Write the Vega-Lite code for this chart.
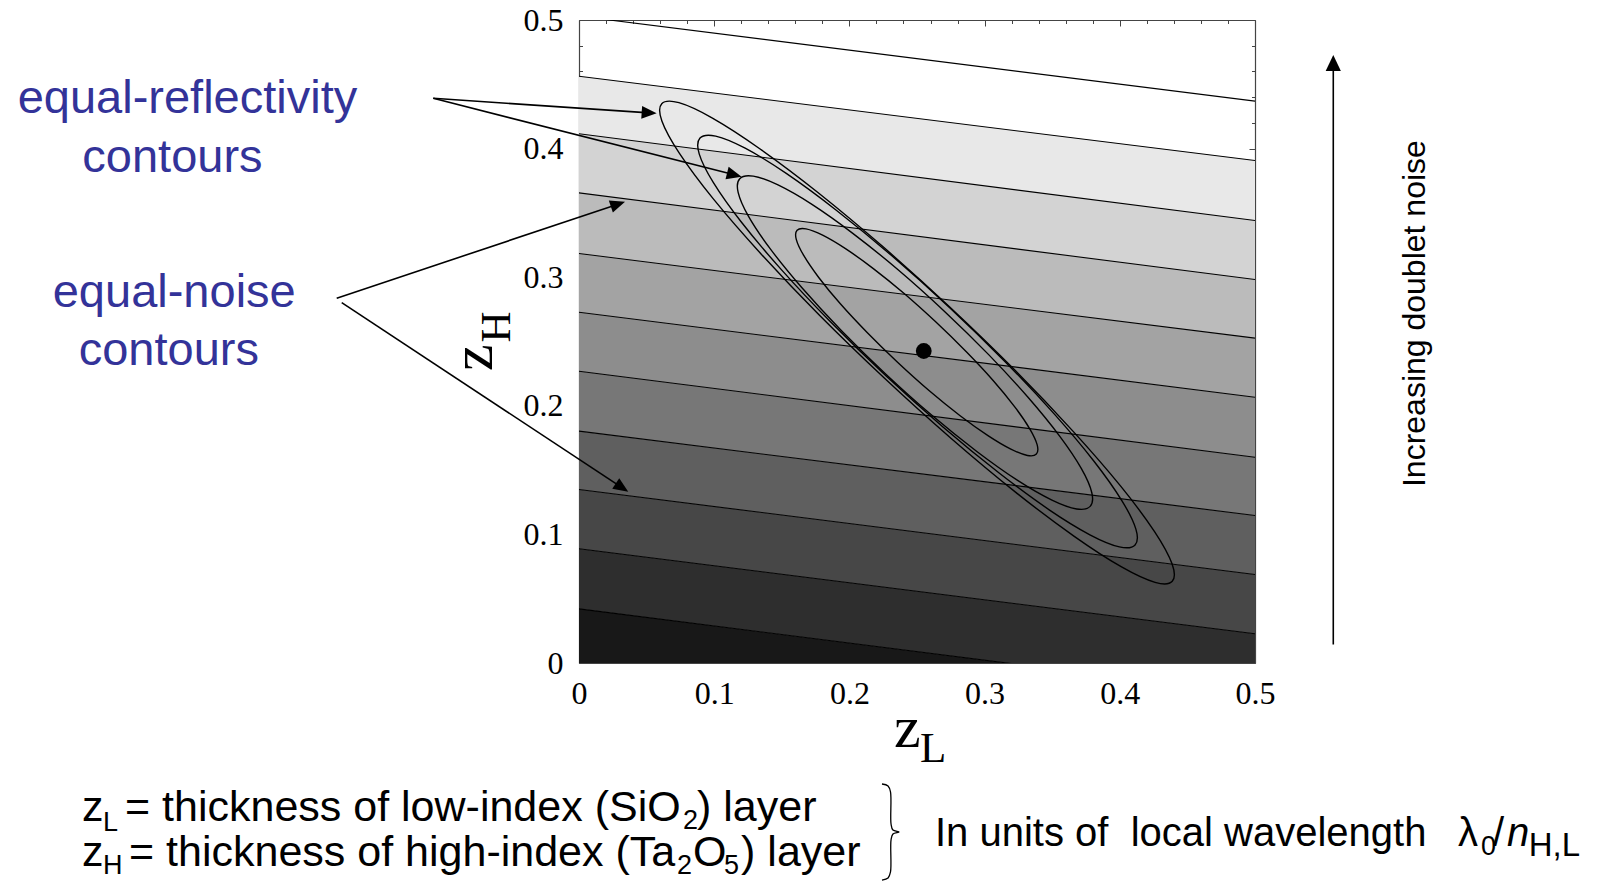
{
  "$schema": "https://vega.github.io/schema/vega-lite/v6.json",
  "width": 676,
  "height": 643,
  "autosize": "none",
  "padding": {"left": 579, "top": 20, "right": 357, "bottom": 218},
  "background": "white",
  "config": {"view": {"stroke": null}},
  "datasets": {
    "bands": [
      {"band": "b2", "zL": 0, "lo": 0.4115, "hi": 0.4563}, {"band": "b2", "zL": 0.5, "lo": 0.3441, "hi": 0.3907},
      {"band": "b3", "zL": 0, "lo": 0.3656, "hi": 0.4115}, {"band": "b3", "zL": 0.5, "lo": 0.2982, "hi": 0.3441},
      {"band": "b4", "zL": 0, "lo": 0.3184, "hi": 0.3656}, {"band": "b4", "zL": 0.5, "lo": 0.2526, "hi": 0.2982},
      {"band": "b5", "zL": 0, "lo": 0.2728, "hi": 0.3184}, {"band": "b5", "zL": 0.5, "lo": 0.2067, "hi": 0.2526},
      {"band": "b6", "zL": 0, "lo": 0.2269, "hi": 0.2728}, {"band": "b6", "zL": 0.5, "lo": 0.1600, "hi": 0.2067},
      {"band": "b7", "zL": 0, "lo": 0.1803, "hi": 0.2269}, {"band": "b7", "zL": 0.5, "lo": 0.1147, "hi": 0.1600},
      {"band": "b8", "zL": 0, "lo": 0.1349, "hi": 0.1803}, {"band": "b8", "zL": 0.5, "lo": 0.0688, "hi": 0.1147},
      {"band": "b9", "zL": 0, "lo": 0.0888, "hi": 0.1349}, {"band": "b9", "zL": 0.5, "lo": 0.0227, "hi": 0.0688},
      {"band": "b10", "zL": 0, "lo": 0.0421, "hi": 0.0888}, {"band": "b10", "zL": 0.5, "lo": -0.0244, "hi": 0.0227},
      {"band": "b11", "zL": 0, "lo": 0, "hi": 0.0421}, {"band": "b11", "zL": 0.5, "lo": 0, "hi": -0.0244}
    ],
    "noise": [
      {"line": "L1", "zL": 0, "zH": 0.503}, {"line": "L1", "zL": 0.5, "zH": 0.4369},
      {"line": "L2", "zL": 0, "zH": 0.4563}, {"line": "L2", "zL": 0.5, "zH": 0.3907},
      {"line": "L3", "zL": 0, "zH": 0.4115}, {"line": "L3", "zL": 0.5, "zH": 0.3441},
      {"line": "L4", "zL": 0, "zH": 0.3656}, {"line": "L4", "zL": 0.5, "zH": 0.2982},
      {"line": "L5", "zL": 0, "zH": 0.3184}, {"line": "L5", "zL": 0.5, "zH": 0.2526},
      {"line": "L6", "zL": 0, "zH": 0.2728}, {"line": "L6", "zL": 0.5, "zH": 0.2067},
      {"line": "L7", "zL": 0, "zH": 0.2269}, {"line": "L7", "zL": 0.5, "zH": 0.1600},
      {"line": "L8", "zL": 0, "zH": 0.1803}, {"line": "L8", "zL": 0.5, "zH": 0.1147},
      {"line": "L9", "zL": 0, "zH": 0.1349}, {"line": "L9", "zL": 0.5, "zH": 0.0688},
      {"line": "L10", "zL": 0, "zH": 0.0888}, {"line": "L10", "zL": 0.5, "zH": 0.0227},
      {"line": "L11", "zL": 0, "zH": 0.0421}, {"line": "L11", "zL": 0.5, "zH": -0.0244}
    ],
    "refl": [
      {"c": 1, "i": 0, "zL": 0.4388, "zH": 0.0635}, {"c": 1, "i": 1, "zL": 0.4387, "zH": 0.0769},
      {"c": 1, "i": 2, "zL": 0.4257, "zH": 0.1021}, {"c": 1, "i": 3, "zL": 0.4008, "zH": 0.1373},
      {"c": 1, "i": 4, "zL": 0.3655, "zH": 0.1801}, {"c": 1, "i": 5, "zL": 0.3225, "zH": 0.2276},
      {"c": 1, "i": 6, "zL": 0.2744, "zH": 0.2766}, {"c": 1, "i": 7, "zL": 0.2247, "zH": 0.3238},
      {"c": 1, "i": 8, "zL": 0.1767, "zH": 0.3659}, {"c": 1, "i": 9, "zL": 0.1337, "zH": 0.3999},
      {"c": 1, "i": 10, "zL": 0.0987, "zH": 0.4237}, {"c": 1, "i": 11, "zL": 0.0739, "zH": 0.4357},
      {"c": 1, "i": 12, "zL": 0.0612, "zH": 0.4349}, {"c": 1, "i": 13, "zL": 0.0613, "zH": 0.4215},
      {"c": 1, "i": 14, "zL": 0.0743, "zH": 0.3963}, {"c": 1, "i": 15, "zL": 0.0992, "zH": 0.3611},
      {"c": 1, "i": 16, "zL": 0.1345, "zH": 0.3183}, {"c": 1, "i": 17, "zL": 0.1775, "zH": 0.2708},
      {"c": 1, "i": 18, "zL": 0.2256, "zH": 0.2218}, {"c": 1, "i": 19, "zL": 0.2753, "zH": 0.1746},
      {"c": 1, "i": 20, "zL": 0.3233, "zH": 0.1325}, {"c": 1, "i": 21, "zL": 0.3663, "zH": 0.0985},
      {"c": 1, "i": 22, "zL": 0.4013, "zH": 0.0747}, {"c": 1, "i": 23, "zL": 0.4261, "zH": 0.0627},
      {"c": 2, "i": 0, "zL": 0.4113, "zH": 0.0918}, {"c": 2, "i": 1, "zL": 0.4119, "zH": 0.1041},
      {"c": 2, "i": 2, "zL": 0.4015, "zH": 0.1263}, {"c": 2, "i": 3, "zL": 0.3809, "zH": 0.1569},
      {"c": 2, "i": 4, "zL": 0.3513, "zH": 0.1939}, {"c": 2, "i": 5, "zL": 0.3148, "zH": 0.2347},
      {"c": 2, "i": 6, "zL": 0.2740, "zH": 0.2765}, {"c": 2, "i": 7, "zL": 0.2316, "zH": 0.3165},
      {"c": 2, "i": 8, "zL": 0.1903, "zH": 0.3521}, {"c": 2, "i": 9, "zL": 0.1533, "zH": 0.3807},
      {"c": 2, "i": 10, "zL": 0.1229, "zH": 0.4003}, {"c": 2, "i": 11, "zL": 0.1011, "zH": 0.4097},
      {"c": 2, "i": 12, "zL": 0.0895, "zH": 0.4082}, {"c": 2, "i": 13, "zL": 0.0889, "zH": 0.3959},
      {"c": 2, "i": 14, "zL": 0.0993, "zH": 0.3737}, {"c": 2, "i": 15, "zL": 0.1199, "zH": 0.3431},
      {"c": 2, "i": 16, "zL": 0.1495, "zH": 0.3061}, {"c": 2, "i": 17, "zL": 0.1860, "zH": 0.2653},
      {"c": 2, "i": 18, "zL": 0.2268, "zH": 0.2235}, {"c": 2, "i": 19, "zL": 0.2692, "zH": 0.1835},
      {"c": 2, "i": 20, "zL": 0.3105, "zH": 0.1479}, {"c": 2, "i": 21, "zL": 0.3475, "zH": 0.1193},
      {"c": 2, "i": 22, "zL": 0.3779, "zH": 0.0997}, {"c": 2, "i": 23, "zL": 0.3997, "zH": 0.0903},
      {"c": 3, "i": 0, "zL": 0.3781, "zH": 0.1218}, {"c": 3, "i": 1, "zL": 0.3793, "zH": 0.1324},
      {"c": 3, "i": 2, "zL": 0.3716, "zH": 0.1511}, {"c": 3, "i": 3, "zL": 0.3555, "zH": 0.1764},
      {"c": 3, "i": 4, "zL": 0.3321, "zH": 0.2066}, {"c": 3, "i": 5, "zL": 0.3030, "zH": 0.2398},
      {"c": 3, "i": 6, "zL": 0.2702, "zH": 0.2736}, {"c": 3, "i": 7, "zL": 0.2360, "zH": 0.3058},
      {"c": 3, "i": 8, "zL": 0.2025, "zH": 0.3341}, {"c": 3, "i": 9, "zL": 0.1723, "zH": 0.3566},
      {"c": 3, "i": 10, "zL": 0.1472, "zH": 0.3717}, {"c": 3, "i": 11, "zL": 0.1289, "zH": 0.3786},
      {"c": 3, "i": 12, "zL": 0.1189, "zH": 0.3766}, {"c": 3, "i": 13, "zL": 0.1177, "zH": 0.3660},
      {"c": 3, "i": 14, "zL": 0.1254, "zH": 0.3473}, {"c": 3, "i": 15, "zL": 0.1415, "zH": 0.3220},
      {"c": 3, "i": 16, "zL": 0.1649, "zH": 0.2918}, {"c": 3, "i": 17, "zL": 0.1940, "zH": 0.2586},
      {"c": 3, "i": 18, "zL": 0.2268, "zH": 0.2248}, {"c": 3, "i": 19, "zL": 0.2610, "zH": 0.1926},
      {"c": 3, "i": 20, "zL": 0.2945, "zH": 0.1643}, {"c": 3, "i": 21, "zL": 0.3247, "zH": 0.1418},
      {"c": 3, "i": 22, "zL": 0.3498, "zH": 0.1267}, {"c": 3, "i": 23, "zL": 0.3681, "zH": 0.1198},
      {"c": 4, "i": 0, "zL": 0.3383, "zH": 0.1625}, {"c": 4, "i": 1, "zL": 0.3389, "zH": 0.1696},
      {"c": 4, "i": 2, "zL": 0.3334, "zH": 0.1821}, {"c": 4, "i": 3, "zL": 0.3223, "zH": 0.1992},
      {"c": 4, "i": 4, "zL": 0.3063, "zH": 0.2197}, {"c": 4, "i": 5, "zL": 0.2863, "zH": 0.2422},
      {"c": 4, "i": 6, "zL": 0.2638, "zH": 0.2653}, {"c": 4, "i": 7, "zL": 0.2405, "zH": 0.2873},
      {"c": 4, "i": 8, "zL": 0.2177, "zH": 0.3067}, {"c": 4, "i": 9, "zL": 0.1971, "zH": 0.3222},
      {"c": 4, "i": 10, "zL": 0.1802, "zH": 0.3327}, {"c": 4, "i": 11, "zL": 0.1679, "zH": 0.3376},
      {"c": 4, "i": 12, "zL": 0.1613, "zH": 0.3365}, {"c": 4, "i": 13, "zL": 0.1607, "zH": 0.3294},
      {"c": 4, "i": 14, "zL": 0.1662, "zH": 0.3169}, {"c": 4, "i": 15, "zL": 0.1773, "zH": 0.2998},
      {"c": 4, "i": 16, "zL": 0.1933, "zH": 0.2793}, {"c": 4, "i": 17, "zL": 0.2133, "zH": 0.2568},
      {"c": 4, "i": 18, "zL": 0.2358, "zH": 0.2337}, {"c": 4, "i": 19, "zL": 0.2591, "zH": 0.2117},
      {"c": 4, "i": 20, "zL": 0.2819, "zH": 0.1923}, {"c": 4, "i": 21, "zL": 0.3025, "zH": 0.1768},
      {"c": 4, "i": 22, "zL": 0.3194, "zH": 0.1663}, {"c": 4, "i": 23, "zL": 0.3317, "zH": 0.1614}
    ],
    "dot": [{"zL": 0.2550, "zH": 0.2426}],
    "arrows": [
      {"name": "A", "zL": -0.1078, "zH": 0.4391, "zL2": 0.0519, "zH2": 0.4278},
      {"name": "B", "zL": -0.1078, "zH": 0.4391, "zL2": 0.1149, "zH2": 0.3796},
      {"name": "C", "zL": -0.1792, "zH": 0.2836, "zL2": 0.0288, "zH2": 0.3568},
      {"name": "D", "zL": -0.1755, "zH": 0.2802, "zL2": 0.0318, "zH2": 0.1364},
      {"name": "E", "zL": 0.5579, "zH": 0.0143, "zL2": 0.5579, "zH2": 0.4666}
    ],
    "heads": [
      {"name": "A", "zL": 0.0519, "zH": 0.4278},
      {"name": "B", "zL": 0.1149, "zH": 0.3796},
      {"name": "C", "zL": 0.0288, "zH": 0.3568},
      {"name": "D", "zL": 0.0318, "zH": 0.1364},
      {"name": "E", "zL": 0.5579, "zH": 0.4666}
    ],
    "brace": [
      {"i": 0, "zL": 0.2241, "zH": -0.0941}, {"i": 1, "zL": 0.2286, "zH": -0.0956},
      {"i": 2, "zL": 0.2304, "zH": -0.1003}, {"i": 3, "zL": 0.2308, "zH": -0.1252},
      {"i": 4, "zL": 0.2322, "zH": -0.1299}, {"i": 5, "zL": 0.2367, "zH": -0.1314},
      {"i": 6, "zL": 0.2322, "zH": -0.1330}, {"i": 7, "zL": 0.2308, "zH": -0.1376},
      {"i": 8, "zL": 0.2304, "zH": -0.1625}, {"i": 9, "zL": 0.2286, "zH": -0.1672},
      {"i": 10, "zL": 0.2241, "zH": -0.1688}
    ],
    "labels": [
      {"role": "blue", "t": "equal-reflectivity", "zL": -0.2896, "zH": 0.4274},
      {"role": "blue", "t": "contours", "zL": -0.3007, "zH": 0.3820},
      {"role": "blue", "t": "equal-noise", "zL": -0.2994, "zH": 0.2771},
      {"role": "blue", "t": "contours", "zL": -0.3034, "zH": 0.2317},
      {"role": "main", "t": "z", "zL": -0.3676, "zH": -0.1229},
      {"role": "main", "t": "= thickness of low-index (SiO", "zL": -0.3358, "zH": -0.1229},
      {"role": "main", "t": ") layer", "zL": 0.0873, "zH": -0.1229},
      {"role": "main", "t": "z", "zL": -0.3676, "zH": -0.1579},
      {"role": "main", "t": "= thickness of high-index (Ta", "zL": -0.3328, "zH": -0.1579},
      {"role": "main", "t": "O", "zL": 0.0844, "zH": -0.1579},
      {"role": "main", "t": ") layer", "zL": 0.1199, "zH": -0.1579},
      {"role": "right", "t": "In units of\u00a0 local wavelength", "zL": 0.2633, "zH": -0.1423},
      {"role": "right", "t": "λ", "zL": 0.6501, "zH": -0.1423},
      {"role": "right", "t": "/", "zL": 0.6760, "zH": -0.1423},
      {"role": "ital", "t": "n", "zL": 0.6864, "zH": -0.1423},
      {"role": "sub", "t": "L", "zL": -0.3521, "zH": -0.1306},
      {"role": "sub", "t": "2", "zL": 0.0769, "zH": -0.1291},
      {"role": "sub", "t": "H", "zL": -0.3521, "zH": -0.1641},
      {"role": "sub", "t": "2", "zL": 0.0725, "zH": -0.1641},
      {"role": "sub", "t": "5", "zL": 0.1073, "zH": -0.1641},
      {"role": "sub", "t": "0", "zL": 0.6671, "zH": -0.1493},
      {"role": "subR", "t": "H,L", "zL": 0.7024, "zH": -0.1500},
      {"role": "xz", "t": "z", "zL": 0.2330, "zH": -0.0653},
      {"role": "xL", "t": "L", "zL": 0.2522, "zH": -0.0770},
      {"role": "yz", "t": "z", "zL": -0.0646, "zH": 0.2271},
      {"role": "yH", "t": "H", "zL": -0.0510, "zH": 0.2492},
      {"role": "rot", "t": "Increasing doublet noise", "zL": 0.6180, "zH": 0.2717}
    ]
  },
  "encoding": {
    "x": {"field": "zL", "type": "quantitative", "scale": {"domain": [0, 0.5], "nice": false, "zero": false}, "axis": null},
    "y": {"field": "zH", "type": "quantitative", "scale": {"domain": [0, 0.5], "nice": false, "zero": false}, "axis": null}
  },
  "layer": [
    {
      "data": {"name": "bands"},
      "mark": {"type": "area", "clip": true},
      "encoding": {
        "x": {"field": "zL", "type": "quantitative", "scale": {"domain": [0, 0.5], "nice": false, "zero": false},
          "axis": {"orient": "bottom", "values": [0,0.02,0.04,0.06,0.08,0.1,0.12,0.14,0.16,0.18,0.2,0.22,0.24,0.26,0.28,0.3,0.32,0.34,0.36,0.38,0.4,0.42,0.44,0.46,0.48,0.5],
            "labelExpr": "abs(datum.value*10-round(datum.value*10))<0.001 ? format(datum.value,'.1~f') : ''",
            "tickSize": {"condition": {"test": "abs(datum.value*10-round(datum.value*10))<0.001", "value": -6}, "value": -3.5},
            "labelFont": "Liberation Serif", "labelFontSize": 32, "labelColor": "black", "labelPadding": 21,
            "tickColor": "#444444", "tickWidth": 1, "domainColor": "#444444", "domainWidth": 1.2,
            "grid": false, "title": null, "labelFlush": false, "labelOverlap": false, "labelBound": false}},
        "y": {"field": "lo", "type": "quantitative", "stack": null, "scale": {"domain": [0, 0.5], "nice": false, "zero": false},
          "axis": {"orient": "left", "values": [0,0.02,0.04,0.06,0.08,0.1,0.12,0.14,0.16,0.18,0.2,0.22,0.24,0.26,0.28,0.3,0.32,0.34,0.36,0.38,0.4,0.42,0.44,0.46,0.48,0.5],
            "labelExpr": "abs(datum.value*10-round(datum.value*10))<0.001 ? format(datum.value,'.1~f') : ''",
            "tickSize": {"condition": {"test": "abs(datum.value*10-round(datum.value*10))<0.001", "value": -6}, "value": -3.5},
            "labelFont": "Liberation Serif", "labelFontSize": 32, "labelColor": "black", "labelPadding": 22,
            "tickColor": "#444444", "tickWidth": 1, "domainColor": "#444444", "domainWidth": 1.2,
            "grid": false, "title": null, "labelFlush": false, "labelOverlap": false, "labelBound": false}},
        "y2": {"field": "hi"},
        "color": {"field": "band", "type": "nominal",
          "scale": {"domain": ["b2","b3","b4","b5","b6","b7","b8","b9","b10","b11"],
                    "range": ["#E8E8E8","#D3D3D3","#BBBBBB","#A3A3A3","#8D8D8D","#777777","#5F5F5F","#474747","#2E2E2E","#181818"]},
          "legend": null}
      }
    },
    {
      "data": {"name": "noise"},
      "mark": {"type": "line", "clip": true, "color": "black", "strokeWidth": 1.1},
      "encoding": {
        "x": {"field": "zL", "type": "quantitative", "scale": {"domain": [0, 0.5], "nice": false, "zero": false},
          "axis": {"orient": "top", "values": [0,0.02,0.04,0.06,0.08,0.1,0.12,0.14,0.16,0.18,0.2,0.22,0.24,0.26,0.28,0.3,0.32,0.34,0.36,0.38,0.4,0.42,0.44,0.46,0.48,0.5],
            "labels": false,
            "tickSize": {"condition": {"test": "abs(datum.value*10-round(datum.value*10))<0.001", "value": -6}, "value": -3.5},
            "tickColor": "#444444", "tickWidth": 1, "domainColor": "#444444", "domainWidth": 1.2, "grid": false, "title": null}},
        "y": {"field": "zH", "type": "quantitative", "scale": {"domain": [0, 0.5], "nice": false, "zero": false},
          "axis": {"orient": "right", "values": [0,0.02,0.04,0.06,0.08,0.1,0.12,0.14,0.16,0.18,0.2,0.22,0.24,0.26,0.28,0.3,0.32,0.34,0.36,0.38,0.4,0.42,0.44,0.46,0.48,0.5],
            "labels": false,
            "tickSize": {"condition": {"test": "abs(datum.value*10-round(datum.value*10))<0.001", "value": -6}, "value": -3.5},
            "tickColor": "#444444", "tickWidth": 1, "domainColor": "#444444", "domainWidth": 1.2, "grid": false, "title": null}},
        "detail": {"field": "line"}
      }
    },
    {
      "data": {"name": "refl"},
      "mark": {"type": "line", "clip": true, "color": "black", "strokeWidth": 1.4, "interpolate": "cardinal-closed"},
      "encoding": {
        "detail": {"field": "c"},
        "order": {"field": "i", "type": "quantitative"}
      }
    },
    {
      "data": {"name": "dot"},
      "mark": {"type": "point", "shape": "circle", "filled": true, "color": "black", "opacity": 1, "size": 250}
    },
    {
      "data": {"name": "arrows"},
      "mark": {"type": "rule", "color": "black", "strokeWidth": 1.6},
      "encoding": {
        "x2": {"field": "zL2"},
        "y2": {"field": "zH2"}
      }
    },
    {
      "data": {"name": "heads"},
      "transform": [{"filter": "datum.name == 'A'"}],
      "mark": {"type": "point", "shape": "M1,0L-1,-0.85L-1,0.85Z", "size": 225, "filled": true, "color": "black", "opacity": 1, "strokeWidth": 0, "angle": 3.8}
    },
    {
      "data": {"name": "heads"},
      "transform": [{"filter": "datum.name == 'B'"}],
      "mark": {"type": "point", "shape": "M1,0L-1,-0.85L-1,0.85Z", "size": 225, "filled": true, "color": "black", "opacity": 1, "strokeWidth": 0, "angle": 14.3}
    },
    {
      "data": {"name": "heads"},
      "transform": [{"filter": "datum.name == 'C'"}],
      "mark": {"type": "point", "shape": "M1,0L-1,-0.85L-1,0.85Z", "size": 225, "filled": true, "color": "black", "opacity": 1, "strokeWidth": 0, "angle": -18.5}
    },
    {
      "data": {"name": "heads"},
      "transform": [{"filter": "datum.name == 'D'"}],
      "mark": {"type": "point", "shape": "M1,0L-1,-0.85L-1,0.85Z", "size": 225, "filled": true, "color": "black", "opacity": 1, "strokeWidth": 0, "angle": 33.4}
    },
    {
      "data": {"name": "heads"},
      "transform": [{"filter": "datum.name == 'E'"}],
      "mark": {"type": "point", "shape": "M1,0L-1,-0.95L-1,0.95Z", "size": 256, "filled": true, "color": "black", "opacity": 1, "strokeWidth": 0, "angle": 270}
    },
    {
      "data": {"name": "brace"},
      "mark": {"type": "line", "color": "black", "strokeWidth": 1.3, "interpolate": "catmull-rom"},
      "encoding": {"order": {"field": "i", "type": "quantitative"}}
    },
    {
      "data": {"name": "labels"},
      "transform": [{"filter": "datum.role == 'blue'"}],
      "mark": {"type": "text", "font": "Liberation Sans", "fontSize": 47, "color": "#333399", "align": "center", "baseline": "alphabetic"},
      "encoding": {"text": {"field": "t"}}
    },
    {
      "data": {"name": "labels"},
      "transform": [{"filter": "datum.role == 'main'"}],
      "mark": {"type": "text", "font": "Liberation Sans", "fontSize": 43, "color": "black", "align": "left", "baseline": "alphabetic"},
      "encoding": {"text": {"field": "t"}}
    },
    {
      "data": {"name": "labels"},
      "transform": [{"filter": "datum.role == 'right'"}],
      "mark": {"type": "text", "font": "Liberation Sans", "fontSize": 40, "color": "black", "align": "left", "baseline": "alphabetic"},
      "encoding": {"text": {"field": "t"}}
    },
    {
      "data": {"name": "labels"},
      "transform": [{"filter": "datum.role == 'ital'"}],
      "mark": {"type": "text", "font": "Liberation Sans", "fontSize": 40, "fontStyle": "italic", "color": "black", "align": "left", "baseline": "alphabetic"},
      "encoding": {"text": {"field": "t"}}
    },
    {
      "data": {"name": "labels"},
      "transform": [{"filter": "datum.role == 'sub'"}],
      "mark": {"type": "text", "font": "Liberation Sans", "fontSize": 27, "color": "black", "align": "left", "baseline": "alphabetic"},
      "encoding": {"text": {"field": "t"}}
    },
    {
      "data": {"name": "labels"},
      "transform": [{"filter": "datum.role == 'subR'"}],
      "mark": {"type": "text", "font": "Liberation Sans", "fontSize": 33, "color": "black", "align": "left", "baseline": "alphabetic"},
      "encoding": {"text": {"field": "t"}}
    },
    {
      "data": {"name": "labels"},
      "transform": [{"filter": "datum.role == 'xz'"}],
      "mark": {"type": "text", "font": "Liberation Serif", "fontSize": 60, "color": "black", "align": "left", "baseline": "alphabetic"},
      "encoding": {"text": {"field": "t"}}
    },
    {
      "data": {"name": "labels"},
      "transform": [{"filter": "datum.role == 'xL'"}],
      "mark": {"type": "text", "font": "Liberation Serif", "fontSize": 43, "color": "black", "align": "left", "baseline": "alphabetic"},
      "encoding": {"text": {"field": "t"}}
    },
    {
      "data": {"name": "labels"},
      "transform": [{"filter": "datum.role == 'yz'"}],
      "mark": {"type": "text", "font": "Liberation Serif", "fontSize": 60, "color": "black", "align": "left", "baseline": "alphabetic", "angle": 270},
      "encoding": {"text": {"field": "t"}}
    },
    {
      "data": {"name": "labels"},
      "transform": [{"filter": "datum.role == 'yH'"}],
      "mark": {"type": "text", "font": "Liberation Serif", "fontSize": 43, "color": "black", "align": "left", "baseline": "alphabetic", "angle": 270},
      "encoding": {"text": {"field": "t"}}
    },
    {
      "data": {"name": "labels"},
      "transform": [{"filter": "datum.role == 'rot'"}],
      "mark": {"type": "text", "font": "Liberation Sans", "fontSize": 32, "color": "black", "align": "center", "baseline": "middle", "angle": 270},
      "encoding": {"text": {"field": "t"}}
    }
  ],
  "resolve": {"axis": {"x": "independent", "y": "independent"}}
}
